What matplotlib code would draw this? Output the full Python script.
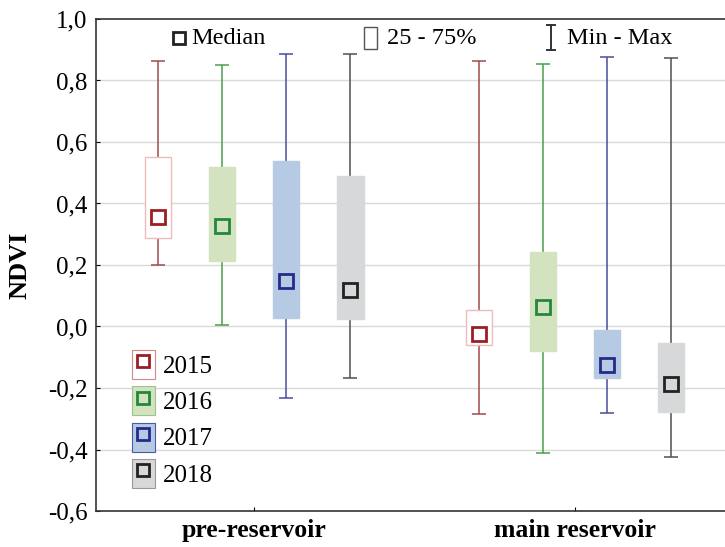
import matplotlib
matplotlib.use("Agg")
import matplotlib.pyplot as plt
from matplotlib.patches import Patch, Rectangle
from matplotlib.lines import Line2D
from matplotlib.legend_handler import HandlerTuple

plt.rcParams['font.family'] = ['Liberation Serif', 'DejaVu Serif']

# data
groups = ['pre-reservoir', 'main reservoir']
years = ['2015', '2016', '2017', '2018']

# per group, per year
medians = [[0.357, 0.327, 0.147, 0.118], [-0.025, 0.064, -0.126, -0.188]]
q1 = [[0.288, 0.214, 0.028, 0.023], [-0.060, -0.080, -0.166, -0.277]]
q3 = [[0.552, 0.518, 0.537, 0.488], [0.055, 0.242, -0.011, -0.055]]
mins = [[0.200, 0.006, -0.232, -0.167], [-0.284, -0.412, -0.281, -0.424]]
maxs = [[0.863, 0.851, 0.886, 0.887], [0.864, 0.853, 0.876, 0.873]]

face_colors = ['#ffffff', '#d3e2bf', '#b6cae3', '#d7d8da']
edge_colors = ['#ecbcbc', '#d3e2bf', '#b6cae3', '#d7d8da']
legend_edges = ['#d08a8a', '#9fc48a', '#4a5aa8', '#9a9a9a']
whisker_colors = ['#a34a4a', '#4a9e4a', '#4a4aa0', '#505050']
median_colors = ['#9a1f24', '#23883a', '#262a8a', '#222222']

fig = plt.figure(figsize=(7.25, 5.47), dpi=100)
ax = fig.add_axes([0.1324, 0.0658, 0.8676, 0.8995])

ax.set_ylim(-0.6, 1.0)
ax.set_xlim(-0.967, 8.84)
ax.set_yticks([-0.6, -0.4, -0.2, 0.0, 0.2, 0.4, 0.6, 0.8, 1.0])
ax.set_yticklabels(['-0,6', '-0,4', '-0,2', '0,0', '0,2', '0,4', '0,6', '0,8', '1,0'])
for yv in [-0.4, -0.2, 0.0, 0.2, 0.4, 0.6, 0.8]:
    ax.axhline(yv, color='#d9d9d9', lw=1.0, zorder=0)

box_w = 0.41
cap_w = 0.22
for g in range(len(groups)):
    for i in range(len(years)):
        x = g * 5 + i
        ax.vlines(x, mins[g][i], q1[g][i], color=whisker_colors[i], lw=1.1, zorder=2)
        ax.vlines(x, q3[g][i], maxs[g][i], color=whisker_colors[i], lw=1.1, zorder=2)
        ax.hlines([mins[g][i], maxs[g][i]], x - cap_w / 2, x + cap_w / 2,
                  color=whisker_colors[i], lw=1.1, zorder=2)
        ax.bar(x, q3[g][i] - q1[g][i], bottom=q1[g][i], width=box_w,
               facecolor=face_colors[i], edgecolor=edge_colors[i], lw=1.0, zorder=3)
        ax.plot(x, medians[g][i], marker='s', ms=10, mfc='none',
                mec=median_colors[i], mew=2.0, zorder=4)

ax.set_xticks([1.5, 6.5])
ax.set_xticklabels(groups, fontsize=18.5, fontweight='bold')
ax.tick_params(axis='x', direction='in', length=3, pad=6)
ax.tick_params(axis='y', direction='in', length=3, labelsize=18, pad=6)
ax.set_ylabel('NDVI', fontsize=19, fontweight='bold', labelpad=12)

for s in ['left', 'top', 'bottom']:
    ax.spines[s].set_color('#333333')
    ax.spines[s].set_linewidth(1.2)
ax.spines['right'].set_visible(False)

# top key
tr = ax.transAxes
ax.plot(0.132, 0.961, marker='s', ms=9, mfc='none', mec='#222222', mew=2.0,
        transform=tr, clip_on=False)
ax.text(0.151, 0.961, 'Median', transform=tr, fontsize=17.5, va='center')
ax.add_patch(Rectangle((0.426, 0.939), 0.021, 0.045, transform=tr,
                       facecolor='white', edgecolor='#555555', lw=1.0))
ax.text(0.463, 0.961, '25 - 75%', transform=tr, fontsize=17.5, va='center')
ax.plot([0.723, 0.723], [0.937, 0.988], color='#333333', lw=1.4, transform=tr)
ax.plot([0.717, 0.729], [0.988, 0.988], color='#333333', lw=1.4, transform=tr)
ax.plot([0.717, 0.729], [0.937, 0.937], color='#333333', lw=1.4, transform=tr)
ax.text(0.749, 0.961, 'Min - Max', transform=tr, fontsize=17.5, va='center')

# year legend
handles = []
for i in range(len(years)):
    p = Patch(facecolor=face_colors[i], edgecolor=legend_edges[i], lw=0.8)
    m = Line2D([], [], ls='none', marker='s', ms=8, mfc='none',
               mec=median_colors[i], mew=2.0)
    handles.append((p, m))
ax.legend(handles, years, handler_map={tuple: HandlerTuple(ndivide=1)},
          loc='lower left', bbox_to_anchor=(0.057, 0.047), frameon=False,
          fontsize=18, handlelength=0.92, handleheight=1.4,
          handletextpad=0.32, labelspacing=0.3, borderpad=0, borderaxespad=0)

fig.savefig('out.png', dpi=100)
